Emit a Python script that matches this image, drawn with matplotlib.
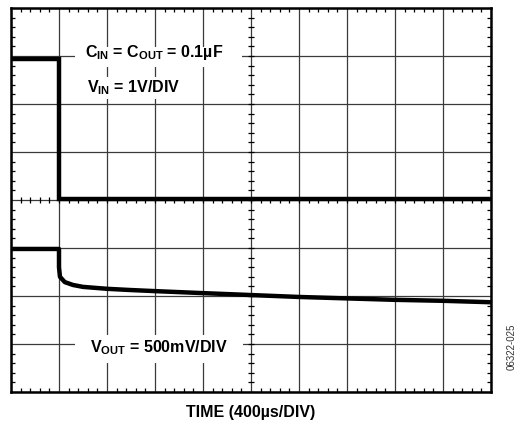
import numpy as np
import matplotlib
matplotlib.use("Agg")
import matplotlib.pyplot as plt
from matplotlib.patches import Rectangle

plt.rcParams["font.family"] = ["Liberation Sans", "DejaVu Sans"]
plt.rcParams["mathtext.fontset"] = "custom"
plt.rcParams["mathtext.rm"] = "Liberation Sans:bold"
plt.rcParams["mathtext.it"] = "Liberation Sans:bold"
plt.rcParams["mathtext.bf"] = "Liberation Sans:bold"

# scope screen: 10 x 8 divisions
n_xdiv = 10
n_ydiv = 8

# V_IN trace (divisions)
vin_t = [0.0, 1.0, 1.0, 10.0]
vin_v = [6.94, 6.94, 4.03, 4.03]

# V_OUT trace (divisions)
vout_t = [0.0, 1.0, 1.0, 1.02, 1.12, 1.29, 1.5, 2.0, 2.48, 3.04, 4.0, 5.0, 6.0, 7.0, 8.0, 9.0, 10.0]
vout_v = [2.98, 2.98, 2.60, 2.40, 2.29, 2.23, 2.19, 2.15, 2.125, 2.10, 2.06, 2.02, 1.98, 1.95, 1.92, 1.90, 1.87]

fig = plt.figure(figsize=(5.2, 4.24), dpi=100)
ax = fig.add_axes([11 / 520, 32 / 424, 480 / 520, 384 / 424])
ax.set_xlim(0, n_xdiv)
ax.set_ylim(0, n_ydiv)

# grid
ax.set_xticks(np.arange(0, n_xdiv + 1))
ax.set_yticks(np.arange(0, n_ydiv + 1))
ax.set_xticks(np.arange(0, n_xdiv + 0.01, 0.2), minor=True)
ax.set_yticks(np.arange(0, n_ydiv + 0.01, 0.2), minor=True)
ax.grid(True, which="major", color="#3a3a3a", lw=0.9, zorder=1)
ax.tick_params(which="major", length=0, labelbottom=False, labelleft=False)
ax.tick_params(which="minor", direction="in", length=3, width=0.9,
               top=True, right=True, bottom=True, left=True, color="k")
for s in ax.spines.values():
    s.set_linewidth(1.8)
    s.set_zorder(5)

# center crosshair ticks
xm = np.arange(0, n_xdiv + 0.01, 0.2)
ym = np.arange(0, n_ydiv + 0.01, 0.2)
ax.plot(xm, np.full_like(xm, n_ydiv / 2), "|", ms=5, mew=0.9, color="k", zorder=2)
ax.plot(np.full_like(ym, n_xdiv / 2), ym, "_", ms=5, mew=0.9, color="k", zorder=2)

# traces
ax.plot(vin_t, vin_v, color="k", lw=3.2, solid_joinstyle="miter", zorder=4)
ax.plot(vout_t, vout_v, color="k", lw=3.2, solid_joinstyle="round", zorder=4)

# label backgrounds
for (x0, y0, w, h) in [(1.33, 6.77, 3.48, 0.42), (1.44, 6.10, 2.19, 0.46), (1.33, 0.60, 3.50, 0.59)]:
    ax.add_patch(Rectangle((x0, y0), w, h, facecolor="white", edgecolor="none", zorder=3))

ax.text(1.54, 6.98, r"C$_{\rm IN}$ = C$_{\rm OUT}$ = 0.1µF", fontsize=11.5,
        fontweight="bold", va="baseline", ha="left", zorder=6)
ax.text(1.58, 6.25, r"V$_{\rm IN}$ = 1V/DIV", fontsize=11.5,
        fontweight="bold", va="baseline", ha="left", zorder=6)
ax.text(1.65, 0.83, r"V$_{\rm OUT}$ = 500mV/DIV", fontsize=11.5,
        fontweight="bold", va="baseline", ha="left", zorder=6)

fig.text(251 / 520, 1 - 412 / 424, "TIME (400µs/DIV)", fontsize=11.5,
         fontweight="bold", ha="center", va="center")
fig.text(512 / 520, 1 - 347 / 424, "06322-025", fontsize=7, rotation=90,
         ha="center", va="center", color="#333333")

fig.savefig("out.png", dpi=100)
